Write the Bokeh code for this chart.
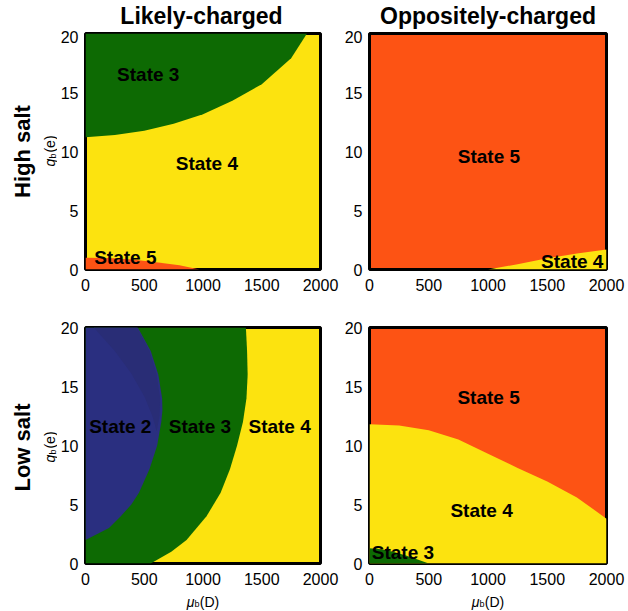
import math
from bokeh.plotting import figure
from bokeh.models import Range1d, FixedTicker
from bokeh.layouts import row, column
from bokeh.core.properties import value
from bokeh.embed import file_html
from bokeh.resources import INLINE

# ---------------- data ----------------
x_ticks = [0, 500, 1000, 1500, 2000]
y_ticks = [0, 5, 10, 15, 20]
col_titles = ["Likely-charged", "Oppositely-charged"]
row_titles = ["High salt", "Low salt"]

# High salt, likely-charged: State 3 above curve, State 5 below curve, State 4 elsewhere
hs_lc_mu_s3 = [0, 250, 500, 750, 1000, 1250, 1500, 1750, 1885]
hs_lc_q_s3 = [11.2, 11.4, 11.75, 12.35, 13.15, 14.3, 15.7, 17.9, 20.0]
hs_lc_mu_s5 = [0, 200, 400, 600, 800, 970]
hs_lc_q_s5 = [1.0, 0.98, 0.85, 0.62, 0.35, 0.0]

# High salt, oppositely-charged: State 4 below curve, State 5 elsewhere
hs_oc_mu_s4 = [1000, 1250, 1500, 1750, 2000]
hs_oc_q_s4 = [0.0, 0.45, 0.95, 1.35, 1.7]

# Low salt, likely-charged: boundaries given as mu(q)
ls_lc_q_s2 = [2, 3, 4, 5, 6, 8, 10, 12, 13, 14, 16, 18, 20]
ls_lc_mu_s2 = [0, 200, 300, 390, 455, 545, 610, 645, 655, 652, 620, 555, 445]
ls_lc_q_s2dark = [20, 18, 16.1, 14.1, 12.4, 11.2, 12.5, 14, 16, 18, 20]
ls_lc_mu_s2dark = [70, 249, 390, 503, 573, 605, 630, 635, 605, 545, 440]
ls_lc_q_s3 = [0, 1, 2, 4, 6, 8, 10, 12, 14, 16, 18, 20]
ls_lc_mu_s3 = [555, 730, 860, 1030, 1150, 1230, 1290, 1340, 1370, 1380, 1375, 1365]

# Low salt, oppositely-charged: State 4 below curve, State 3 small corner
ls_oc_mu_s4 = [0, 250, 500, 750, 1000, 1250, 1500, 1750, 2000]
ls_oc_q_s4 = [11.8, 11.7, 11.3, 10.5, 9.3, 8.1, 6.95, 5.6, 3.8]
ls_oc_mu_s3 = [0, 100, 200, 300, 400, 500]
ls_oc_q_s3 = [1.3, 1.2, 1.0, 0.7, 0.35, 0.0]

YELLOW = "#fce30f"
GREEN = "#0d6a03"
RED = "#fd5314"
BLUE = "#2a2f80"
BLUE_DARK = "#292d76"

FONT = "Liberation Sans"
W, H = 628, 611
LEFT_W = 57
TOP_H = 30
BOT_H = 18


def make_fig(w, h, bl, br, bt, bb, bg):
    p = figure(width=w, height=h, x_range=Range1d(0, 2000), y_range=Range1d(0, 20),
               output_backend="svg", toolbar_location=None,
               min_border_left=bl, min_border_right=br, min_border_top=bt, min_border_bottom=bb)
    p.xgrid.visible = False
    p.ygrid.visible = False
    p.xaxis.ticker = FixedTicker(ticks=x_ticks)
    p.yaxis.ticker = FixedTicker(ticks=y_ticks)
    p.axis.major_tick_line_color = None
    p.axis.minor_tick_line_color = None
    p.axis.major_tick_out = 0
    p.axis.major_tick_in = 0
    p.axis.minor_tick_out = 0
    p.axis.minor_tick_in = 0
    p.axis.axis_line_color = None
    p.axis.major_label_text_font = FONT
    p.axis.major_label_text_font_size = "16px"
    p.axis.major_label_text_color = "black"
    p.xaxis.major_label_standoff = 9
    p.yaxis.major_label_standoff = 7
    p.outline_line_color = "black"
    p.outline_line_width = 3
    p.background_fill_color = bg
    p.border_fill_color = "white"
    return p


def strip(w, h, x0, x1, y0, y1):
    s = figure(width=w, height=h, x_range=Range1d(x0, x1), y_range=Range1d(y0, y1),
               output_backend="svg", toolbar_location=None,
               x_axis_location=None, y_axis_location=None, min_border=0)
    s.xgrid.visible = False
    s.ygrid.visible = False
    s.outline_line_color = None
    s.background_fill_color = "white"
    s.border_fill_color = "white"
    return s


def state_text(p, xs, ys, texts):
    p.text(x=xs, y=ys, text=texts, text_font=value(FONT), text_font_style="bold",
           text_font_size="19px", text_align="center", text_baseline="middle", text_color="black")


def txt(s, x, y, text, size, style="normal", angle=0.0, align="center", baseline="middle"):
    s.text(x=[x], y=[y], text=[text], text_font=value(FONT), text_font_size=size,
           text_font_style=style, angle=angle, text_align=align, text_baseline=baseline,
           text_color="black")


# ---- strips for titles / labels (coordinates in screen pixels, y up from bottom) ----
top = strip(W - LEFT_W, TOP_H, LEFT_W, W, 0, TOP_H)
txt(top, 201, TOP_H - 15, col_titles[0], "23px", "bold")
txt(top, 487.5, TOP_H - 15, col_titles[1], "23px", "bold")

left = strip(LEFT_W, H, 0, LEFT_W, 0, H)
A = math.pi / 2
for i, cy in enumerate([151, 447]):
    txt(left, 22, H - cy, row_titles[i], "22px", "bold", A)
    txt(left, 49, H - (cy + 11), "q", "14px", "italic", A)
    txt(left, 52.5, H - (cy + 4.5), "b", "9px", "normal", A)
    txt(left, 49, H - (cy - 7.5), "(e)", "14px", "normal", A)

bot = strip(W - LEFT_W, BOT_H, LEFT_W, W, 0, BOT_H)
for cx in [202, 487]:
    txt(bot, cx - 12, 10, "\u03bc", "14px", "italic", 0, "center", "middle")
    txt(bot, cx - 5.5, 7.5, "b", "9px", "normal", 0, "center", "middle")
    txt(bot, cx + 7, 10, "(D)", "14px", "normal", 0, "center", "middle")

# ---- top-left ----
p1 = make_fig(340 - LEFT_W, 270, 84 - LEFT_W, 20, 3, 31, YELLOW)
p1.varea(x=hs_lc_mu_s3, y1=hs_lc_q_s3, y2=[20] * len(hs_lc_q_s3), fill_color=GREEN)
p1.varea(x=hs_lc_mu_s5, y1=[0] * len(hs_lc_q_s5), y2=hs_lc_q_s5, fill_color=RED)
state_text(p1, [534, 1033, 339], [16.5, 9.0, 1.0], ["State 3", "State 4", "State 5"])

# ---- top-right ----
p2 = make_fig(288, 270, 29, 22, 3, 31, RED)
p2.varea(x=hs_oc_mu_s4, y1=[0] * len(hs_oc_q_s4), y2=hs_oc_q_s4, fill_color=YELLOW)
state_text(p2, [1008, 1711], [9.6, 0.7], ["State 5", "State 4"])

# ---- bottom-left ----
p3 = make_fig(340 - LEFT_W, 293, 84 - LEFT_W, 20, 27, 30, YELLOW)
p3.harea(y=ls_lc_q_s3, x1=[0] * len(ls_lc_q_s3), x2=ls_lc_mu_s3, fill_color=GREEN)
p3.harea(y=ls_lc_q_s2, x1=[0] * len(ls_lc_q_s2), x2=ls_lc_mu_s2, fill_color=BLUE)
p3.patch(x=ls_lc_mu_s2dark, y=ls_lc_q_s2dark, fill_color=BLUE_DARK, line_color=None)
state_text(p3, [296, 974, 1652], [11.6, 11.6, 11.6], ["State 2", "State 3", "State 4"])

# ---- bottom-right ----
p4 = make_fig(288, 293, 29, 22, 27, 30, RED)
p4.varea(x=ls_oc_mu_s4, y1=[0] * len(ls_oc_q_s4), y2=ls_oc_q_s4, fill_color=YELLOW)
p4.varea(x=ls_oc_mu_s3, y1=[0] * len(ls_oc_q_s3), y2=ls_oc_q_s3, fill_color=GREEN)
state_text(p4, [1005, 946, 282], [14.1, 4.5, 0.9], ["State 5", "State 4", "State 3"])

layout = row(left, column(top, row(p1, p2), row(p3, p4), bot))
open("out.html", "w").write(file_html(layout, INLINE))
